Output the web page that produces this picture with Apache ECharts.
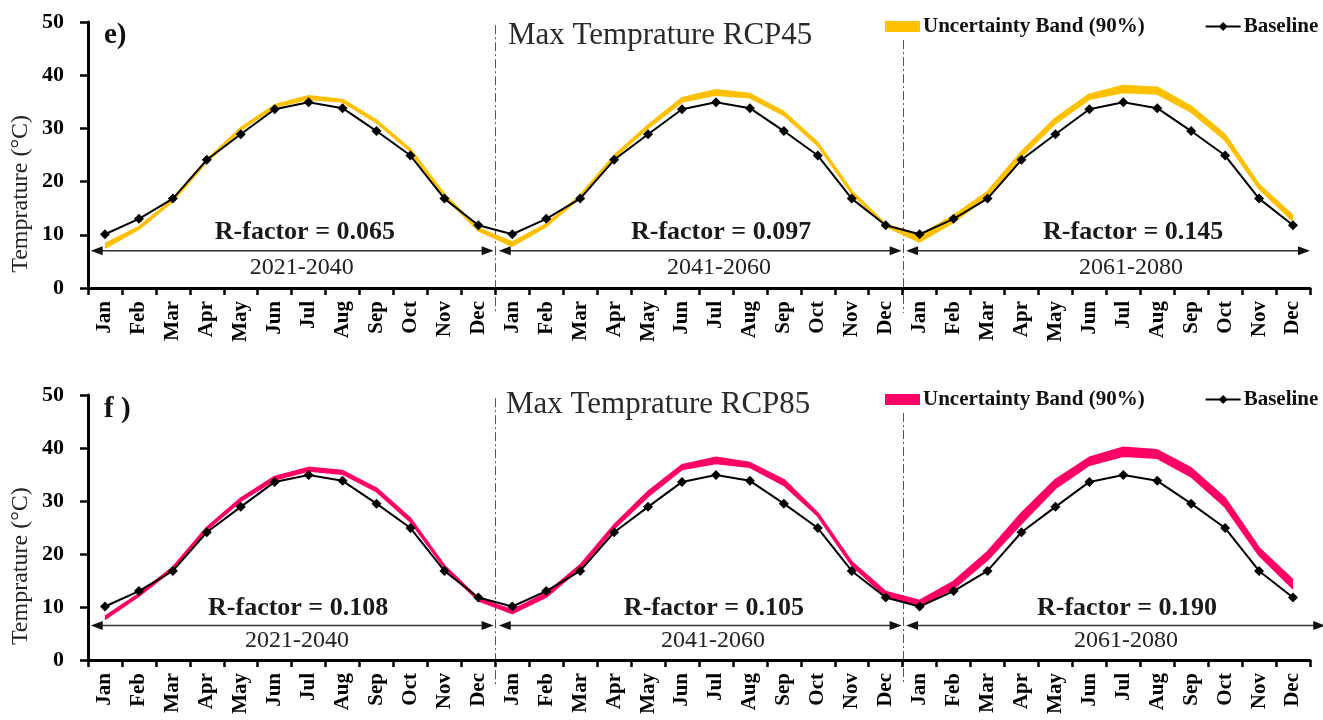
<!DOCTYPE html>
<html><head><meta charset="utf-8">
<script src="https://cdn.jsdelivr.net/npm/echarts@6/dist/echarts.min.js"></script>
<style>html,body{margin:0;padding:0;background:#fff}#c{width:1323px;height:720px}</style>
</head><body><div id="c"></div>
<script>
// ---------------- data ----------------
const months = ['Jan','Feb','Mar','Apr','May','Jun','Jul','Aug','Sep','Oct','Nov','Dec'];
const periods = ['2021-2040','2041-2060','2061-2080'];
const baselineMonthly = [10.1, 13.0, 16.8, 24.1, 28.9, 33.6, 34.9, 33.8, 29.5, 24.9, 16.8, 11.8];

const rcp45Lower = [7.5, 11.1, 16.3, 23.7, 29.7, 34.0, 35.5, 35.0, 31.1, 25.7, 17.2, 10.8,
                    7.9, 11.6, 17.0, 24.5, 30.1, 35.0, 36.3, 35.8, 32.5, 26.8, 17.8, 11.6,
                    8.7, 12.4, 17.2, 24.7, 31.0, 35.5, 36.8, 36.5, 33.1, 27.8, 18.7, 12.6];
const rcp45Upper = [8.3, 11.5, 16.7, 24.1, 30.1, 34.4, 36.1, 35.4, 31.5, 26.1, 17.6, 11.2,
                    8.6, 12.0, 17.4, 24.9, 30.6, 35.7, 37.2, 36.5, 33.1, 27.3, 18.2, 12.0,
                    9.9, 13.6, 18.1, 25.6, 31.9, 36.4, 38.0, 37.7, 34.1, 28.8, 19.4, 13.6];
const rcp85Lower = [7.7, 12.1, 17.1, 24.6, 30.0, 34.0, 35.7, 35.1, 31.8, 26.1, 17.4, 11.2,
                    8.8, 11.9, 17.3, 24.8, 30.9, 36.0, 37.1, 36.4, 33.0, 27.2, 17.9, 12.0,
                    10.2, 13.5, 18.9, 25.8, 32.4, 36.8, 38.5, 38.1, 34.6, 28.9, 19.8, 13.5];
const rcp85Upper = [8.2, 12.5, 17.5, 25.0, 30.5, 34.6, 36.3, 35.7, 32.4, 26.7, 17.8, 11.6,
                    9.4, 12.6, 17.9, 25.5, 31.8, 36.8, 38.2, 37.2, 34.0, 27.7, 18.5, 12.9,
                    11.2, 14.8, 20.4, 27.7, 34.0, 38.2, 40.1, 39.6, 36.2, 30.5, 21.1, 15.1];
const rFactor45 = ['0.065', '0.097', '0.145'];
const rFactor85 = ['0.108', '0.105', '0.190'];

// ---------------- derived ----------------
const categories = months.concat(months, months);
const baseline = baselineMonthly.concat(baselineMonthly, baselineMonthly);

const FONT = "'Liberation Serif','Times New Roman',serif";
const panels = [
  { key:'RCP45', tag:'e)', title:'Max Temprature RCP45', color:'#FFC000',
    lower:rcp45Lower, upper:rcp45Upper, rf:rFactor45,
    top:22, height:266, legendTop:16, titleY:36, tagY:36,
    arrowY:7.0, rfY:10.5, perY:3.9, rfPos:[5.89,18.15,30.29], perPos:[5.8,18.09,30.23],
    arrows:[[-0.42,11.45],[11.6,23.47],[23.6,35.5]], vTops:[49.4,46.6], titleX:508 },
  { key:'RCP85', tag:'f )', title:'Max Temprature RCP85', color:'#FF0066',
    lower:rcp85Lower, upper:rcp85Upper, rf:rFactor85,
    top:395, height:265, legendTop:389, titleY:405, tagY:410,
    arrowY:6.5, rfY:9.8, perY:3.6, rfPos:[5.69,17.94,30.11], perPos:[5.66,17.91,30.08],
    arrows:[[-0.42,11.45],[11.6,23.47],[23.6,35.95]], vTops:[49.4,46.6], titleX:506 }
];

const grids = [], xAxes = [], yAxes = [], series = [], legends = [];
const legendNames = {};
panels.forEach((p, g) => {
  grids.push({ left:88, right:13, top:p.top, height:p.height, outerBoundsMode:'none', containLabel:false });
  xAxes.push({
    type:'category', gridIndex:g, data:categories, boundaryGap:true,
    axisLine:{ lineStyle:{ color:'#000', width:3 } },
    axisTick:{ show:true, alignWithLabel:false, interval:0, length:7, lineStyle:{ color:'#000', width:2.5 } },
    axisLabel:{ interval:0, rotate:90, margin:13, color:'#000', fontFamily:FONT, fontWeight:'bold', fontSize:21 },
    splitLine:{ show:false }
  });
  yAxes.push({
    type:'value', gridIndex:g, min:0, max:50, interval:10,
    axisLine:{ show:true, lineStyle:{ color:'#000', width:3 } },
    axisTick:{ show:true, length:8, lineStyle:{ color:'#000', width:2.5 } },
    axisLabel:{ margin:24, color:'#000', fontFamily:FONT, fontWeight:'bold', fontSize:22 },
    splitLine:{ show:false }
  });
  const diff = p.upper.map((u, i) => +(u - p.lower[i]).toFixed(2));
  series.push({
    name:p.key + ' lower', type:'line', xAxisIndex:g, yAxisIndex:g, stack:'band' + g,
    data:p.lower, symbol:'none', z:3, silent:true,
    lineStyle:{ color:p.color, width:2 }, itemStyle:{ color:p.color }
  });
  series.push({
    name:p.key + ' band', type:'line', xAxisIndex:g, yAxisIndex:g, stack:'band' + g,
    data:diff, symbol:'none', z:2, silent:true, color:p.color,
    lineStyle:{ color:p.color, width:2 }, itemStyle:{ color:p.color },
    areaStyle:{ color:p.color, opacity:1 }
  });
  series.push({
    name:p.key + ' baseline', type:'line', xAxisIndex:g, yAxisIndex:g,
    data:baseline, symbol:'diamond', symbolSize:10, z:5, color:'#000',
    lineStyle:{ color:'#000', width:2 }, itemStyle:{ color:'#000' }
  });
  legendNames[p.key + ' band'] = 'Uncertainty Band (90%)';
  legendNames[p.key + ' baseline'] = 'Baseline';
  legends.push({
    left:885, top:p.legendTop, width:700, orient:'horizontal', itemWidth:35, itemHeight:11, itemGap:60,
    selectedMode:false, padding:0,
    data:[{ name:p.key + ' band', icon:'rect', itemStyle:{ borderWidth:0 } }, { name:p.key + ' baseline' }],
    formatter:n => legendNames[n],
    textStyle:{ fontFamily:FONT, fontWeight:'bold', fontSize:21, color:'#111', padding:[0,0,0,-2] }
  });
});

const chart = echarts.init(document.getElementById('c'), null, { renderer:'canvas' });
chart.setOption({
  animation:false, backgroundColor:'#fff',
  grid:grids, xAxis:xAxes, yAxis:yAxes, series:series, legend:legends
});

// ---------------- annotations positioned through the axes ----------------
const gfx = [];
panels.forEach((p, g) => {
  const px = (i, v) => chart.convertToPixel({ gridIndex:g }, [i, v]);
  const x0 = px(0, 0)[0];
  const step = (px(35, 0)[0] - x0) / 35;
  const X = t => x0 + t * step;
  const Y = v => px(0, v)[1];

  // y axis name
  gfx.push({ type:'text', x:21, y:Y(17.7), rotation:Math.PI / 2,
    style:{ text:'Temprature (°C)', fontFamily:FONT, fontSize:24, fill:'#222',
      align:'center', verticalAlign:'middle', textAlign:'center', textVerticalAlign:'middle' } });
  // panel tag and title
  gfx.push({ type:'text', x:104, y:p.tagY,
    style:{ text:p.tag, fontFamily:FONT, fontSize:29, fontWeight:'bold', fill:'#111',
      align:'left', verticalAlign:'middle', textAlign:'left', textVerticalAlign:'middle' } });
  gfx.push({ type:'text', x:p.titleX, y:p.titleY,
    style:{ text:p.title, fontFamily:FONT, fontSize:31, fill:'#2a2a2a',
      align:'left', verticalAlign:'middle', textAlign:'left', textVerticalAlign:'middle' } });

  // dash-dot separators between periods
  [11.5, 23.5].forEach((b, k) => {
    const bx = Math.round(X(b)) + 0.5;
    gfx.push({ type:'line', silent:true,
      shape:{ x1:bx, y1:Y(p.vTops[k]), x2:bx, y2:Y(-4.7) },
      style:{ stroke:'#555', lineWidth:1, lineDash:[9, 3, 2, 3] } });
  });

  // double-headed arrows, R-factor and period labels
  const ay = Y(p.arrowY);
  p.arrows.forEach((a, k) => {
    const xa = X(a[0]), xb = X(a[1]), ah = 12, hw = 4.5;
    gfx.push({ type:'line', silent:true, shape:{ x1:xa + ah - 1, y1:ay, x2:xb - ah + 1, y2:ay },
      style:{ stroke:'#333', lineWidth:1.5 } });
    gfx.push({ type:'polygon', silent:true, shape:{ points:[[xa, ay], [xa + ah, ay - hw], [xa + ah, ay + hw]] },
      style:{ fill:'#111' } });
    gfx.push({ type:'polygon', silent:true, shape:{ points:[[xb, ay], [xb - ah, ay - hw], [xb - ah, ay + hw]] },
      style:{ fill:'#111' } });
    gfx.push({ type:'text', x:X(p.rfPos[k]), y:Y(p.rfY),
      style:{ text:'R-factor = ' + p.rf[k], fontFamily:FONT, fontSize:26, fontWeight:'bold', fill:'#1a1a1a',
        align:'center', verticalAlign:'middle', textAlign:'center', textVerticalAlign:'middle' } });
    gfx.push({ type:'text', x:X(p.perPos[k]), y:Y(p.perY),
      style:{ text:periods[k], fontFamily:FONT, fontSize:24, fill:'#222',
        align:'center', verticalAlign:'middle', textAlign:'center', textVerticalAlign:'middle' } });
  });
});
chart.setOption({ graphic:gfx });
</script>
</body></html>
